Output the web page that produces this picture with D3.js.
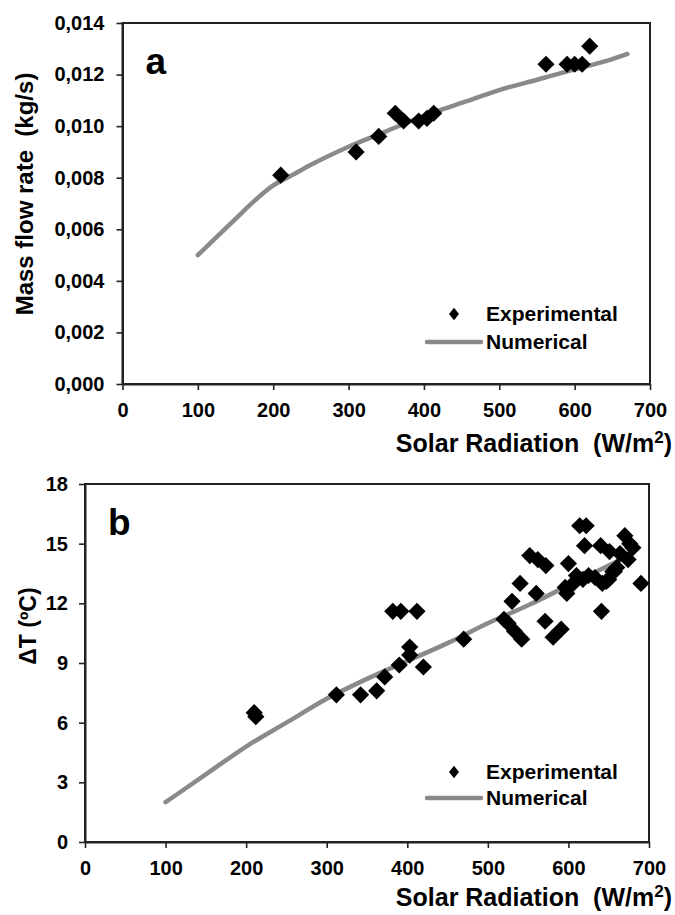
<!DOCTYPE html>
<html>
<head>
<meta charset="utf-8">
<script src="https://cdn.jsdelivr.net/npm/d3@7"></script>
<style>
  body { margin: 0; background: #fff; }
  svg { display: block; }
  text { font-family: "Liberation Sans", Arial, sans-serif; font-weight: bold; fill: #000; }
</style>
</head>
<body>
<svg id="chart" width="675" height="915"></svg>
<script>
// ---- panel a : mass flow rate ----
var radA  = [210, 310, 340, 362, 373, 393, 404, 413, 562, 590, 600, 610, 620]
var flowA = [0.0081, 0.0090, 0.0096, 0.0105, 0.0102, 0.0102, 0.0103, 0.0105, 0.0124, 0.0124, 0.0124, 0.0124, 0.0131]
var numRadA  = [100, 150, 175, 200, 225, 250, 300, 350, 400, 450, 500, 550, 600, 650, 670]
var numFlowA = [0.0050, 0.0064, 0.0071, 0.0077, 0.0081, 0.0085, 0.0092, 0.0098, 0.0104, 0.0109, 0.0114, 0.0118, 0.0122, 0.0126, 0.0128]

// ---- panel b : temperature rise ----
var radB = [210, 212, 312, 342, 362, 372, 390, 403, 403, 420, 382, 392, 412, 470,
            520, 525, 533, 542, 530, 540, 552, 562, 572, 560, 571, 581, 591,
            598, 600, 606, 614, 622, 620, 610, 625, 633, 641, 640, 651, 647, 655,
            660, 664, 670, 676, 674, 680, 690, 596, 618, 642, 650, 657]
var dtB  = [6.5, 6.3, 7.4, 7.4, 7.6, 8.3, 8.9, 9.4, 9.8, 8.8, 11.6, 11.6, 11.6, 10.2,
            11.2, 11.0, 10.6, 10.2, 12.1, 13.0, 14.4, 14.2, 13.9, 12.5, 11.1, 10.3, 10.7,
            12.5, 14.0, 13.0, 15.9, 15.9, 14.9, 13.4, 13.4, 13.3, 11.6, 14.9, 14.6, 13.1, 13.6,
            13.8, 14.5, 15.4, 15.0, 14.2, 14.8, 13.0, 12.8, 13.2, 13.0, 13.2, 13.6]
var numRadB = [100, 150, 200, 250, 300, 350, 400, 450, 500, 550, 600, 650, 670]
var numDtB  = [2.0, 3.4, 4.8, 6.0, 7.2, 8.2, 9.1, 10.0, 11.0, 11.9, 12.9, 13.9, 14.3]

var radTicks  = [0, 100, 200, 300, 400, 500, 600, 700]
var flowTicks = [0, 0.002, 0.004, 0.006, 0.008, 0.010, 0.012, 0.014]
var dtTicks   = [0, 3, 6, 9, 12, 15, 18]

var comma = d3.formatLocale({decimal: ",", thousands: ".", grouping: [3], currency: ["", ""]})

var svg = d3.select("#chart")

// excel style diamond
function diamond(w, h) {
  var p = d3.path()
  p.moveTo(0, -h); p.lineTo(w, 0); p.lineTo(0, h); p.lineTo(-w, 0); p.closePath()
  return p.toString()
}

function drawPanel(o) {
  var x = d3.scaleLinear().domain([0, 700]).range([o.left, o.right])
  var y = d3.scaleLinear().domain(o.yDomain).range([o.bottom, o.top])

  var g = svg.append("g")

  // frame
  g.append("rect")
    .attr("x", o.left).attr("y", o.top)
    .attr("width", o.right - o.left).attr("height", o.bottom - o.top)
    .attr("fill", "none").attr("stroke", "#222").attr("stroke-width", 2)

  var ax = g.append("g")
    .attr("transform", "translate(0," + o.bottom + ")")
    .call(d3.axisBottom(x).tickValues(radTicks).tickSizeInner(6).tickSizeOuter(0).tickPadding(13))
  var ay = g.append("g")
    .attr("transform", "translate(" + o.left + ",0)")
    .call(d3.axisLeft(y).tickValues(o.yTicks).tickFormat(o.yFmt).tickSizeInner(6).tickSizeOuter(0).tickPadding(o.yPad))

  ;[ax, ay].forEach(function(a) {
    a.select(".domain").attr("stroke", "#222").attr("stroke-width", 2)
    a.selectAll(".tick line").attr("stroke", "#222").attr("stroke-width", 1.6)
    a.selectAll("text").attr("font-size", 20).attr("font-weight", "bold")
      .attr("font-family", "'Liberation Sans', Arial, sans-serif").attr("fill", "#000")
  })

  // numerical line
  var line = d3.line().x(function(d) { return x(d[0]) }).y(function(d) { return y(d[1]) }).curve(d3.curveMonotoneX)
  g.append("path")
    .datum(d3.zip(o.numX, o.numY))
    .attr("d", line)
    .attr("fill", "none").attr("stroke", "#8a8a8a").attr("stroke-width", 4.5)
    .attr("stroke-linecap", "round")

  // experimental points
  g.selectAll(".pt").data(d3.zip(o.expX, o.expY)).enter()
    .append("path")
    .attr("class", "pt")
    .attr("d", diamond(8.6, 8.6))
    .attr("transform", function(d) { return "translate(" + x(d[0]) + "," + y(d[1]) + ")" })
    .attr("fill", "#000")

  // panel letter
  g.append("text").attr("x", o.left + 23).attr("y", o.top + 51)
    .attr("font-size", 37).text(o.letter)

  // legend
  g.append("path").attr("d", diamond(5, 6.3))
    .attr("transform", "translate(454," + o.legY + ")").attr("fill", "#000")
  g.append("text").attr("x", 486).attr("y", o.legY).attr("dy", "0.35em")
    .attr("font-size", 21).text("Experimental")
  g.append("line").attr("x1", 427).attr("x2", 481)
    .attr("y1", o.legY + o.legGap).attr("y2", o.legY + o.legGap)
    .attr("stroke", "#8a8a8a").attr("stroke-width", 4.5).attr("stroke-linecap", "round")
  g.append("text").attr("x", 486).attr("y", o.legY + o.legGap).attr("dy", "0.35em")
    .attr("font-size", 21).text("Numerical")

  // x title
  var xt = g.append("text").attr("x", 672).attr("y", o.xTitleY)
    .attr("text-anchor", "end").attr("font-size", 25)
    .attr("xml:space", "preserve")
  xt.append("tspan").text("Solar Radiation  (W/m")
  xt.append("tspan").attr("font-size", 17).attr("dy", -9).text("2")
  xt.append("tspan").attr("dy", 9).text(")")

  // y title
  g.append("text")
    .attr("transform", "translate(" + o.yTitleX + "," + o.yTitleY + ") rotate(-90)")
    .attr("text-anchor", "middle").attr("font-size", o.yTitleSize)
    .attr("xml:space", "preserve")
    .text(o.yTitle)
}

drawPanel({
  left: 122.5, right: 650, top: 23, bottom: 384,
  yDomain: [0, 0.014], yTicks: flowTicks, yFmt: comma.format(".3f"), yPad: 12,
  expX: radA, expY: flowA, numX: numRadA, numY: numFlowA,
  letter: "a", legY: 314, legGap: 28, xTitleY: 452,
  yTitle: "Mass flow rate  (kg/s)", yTitleX: 33, yTitleY: 194, yTitleSize: 24
})

drawPanel({
  left: 85, right: 649, top: 484, bottom: 842,
  yDomain: [0, 18], yTicks: dtTicks, yFmt: d3.format("d"), yPad: 11,
  expX: radB, expY: dtB, numX: numRadB, numY: numDtB,
  letter: "b", legY: 772, legGap: 26, xTitleY: 906,
  yTitle: "\u0394T (\u00baC)", yTitleX: 36, yTitleY: 626, yTitleSize: 23
})
</script>
</body>
</html>
